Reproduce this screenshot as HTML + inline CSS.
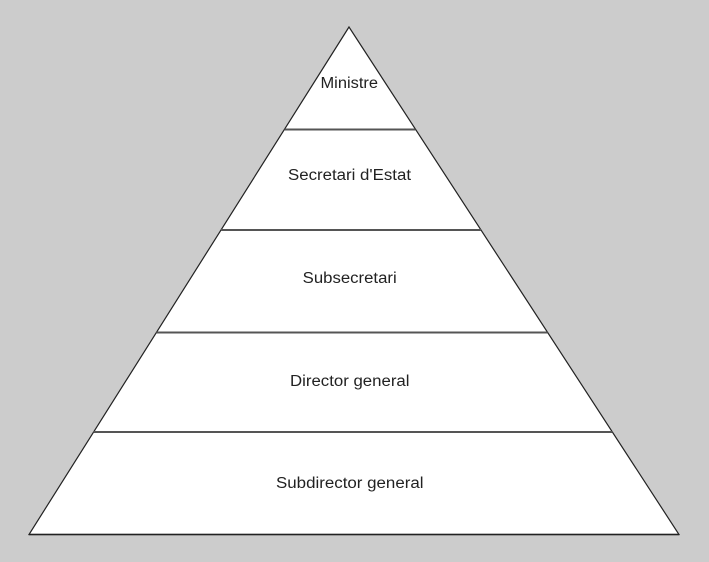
<!DOCTYPE html>
<html><head><style>html,body{margin:0;padding:0;background:#cccccc;}svg{display:block;}</style></head>
<body>
<svg width="709" height="562" xmlns="http://www.w3.org/2000/svg">
<rect width="709" height="562" fill="#cccccc"/>
<polygon points="349,27 29,534.5 679,534.5" fill="#fff" stroke="#222" stroke-width="1.2"/>
<g stroke="#555" stroke-width="2">
<line x1="284.7" y1="129.5" x2="415.3" y2="129.5"/>
<line x1="221" y1="230" x2="481" y2="230"/>
<line x1="156.4" y1="332.5" x2="547.6" y2="332.5"/>
<line x1="93.6" y1="432" x2="612.4" y2="432"/>
</g>
<line x1="29" y1="534.5" x2="679" y2="534.5" stroke="#222" stroke-width="1.5"/>
<g font-family="Liberation Sans, sans-serif" font-size="15.5" fill="#222">
<text x="320.5" y="88" textLength="57.5" lengthAdjust="spacingAndGlyphs">Ministre</text>
<text x="288" y="180" textLength="123" lengthAdjust="spacingAndGlyphs">Secretari d'Estat</text>
<text x="302.7" y="283" textLength="94" lengthAdjust="spacingAndGlyphs">Subsecretari</text>
<text x="290" y="386" textLength="119.5" lengthAdjust="spacingAndGlyphs">Director general</text>
<text x="276" y="488" textLength="147.5" lengthAdjust="spacingAndGlyphs">Subdirector general</text>
</g>
</svg>
</body></html>
